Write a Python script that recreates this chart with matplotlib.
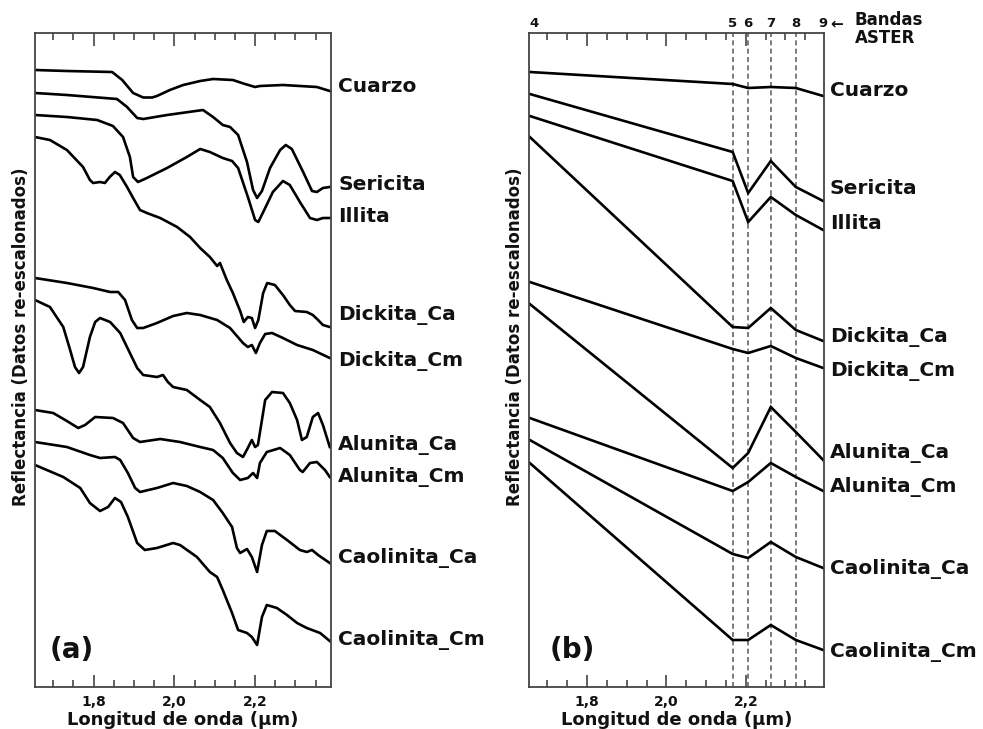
import matplotlib.pyplot as plt
import matplotlib.transforms as mtransforms
from matplotlib.ticker import MultipleLocator, FuncFormatter

plt.rcParams['font.family'] = ['DejaVu Sans']
plt.rcParams['font.weight'] = 'bold'
plt.rcParams['axes.labelweight'] = 'bold'

minerals = ['Cuarzo', 'Sericita', 'Illita', 'Dickita_Ca', 'Dickita_Cm',
            'Alunita_Ca', 'Alunita_Cm', 'Caolinita_Ca', 'Caolinita_Cm']

# ---- panel (a): laboratory spectra (wavelength um, re-scaled reflectance)
cuarzo_wl = [1.655, 1.734, 1.846, 1.871, 1.898, 1.923, 1.945, 1.957, 1.989, 2.022,
             2.064, 2.096, 2.145, 2.175, 2.200, 2.212, 2.269, 2.353, 2.385]
cuarzo_r = [6.30, 6.29, 6.28, 6.20, 6.07, 6.025, 6.025, 6.04, 6.10, 6.15,
            6.19, 6.21, 6.20, 6.16, 6.13, 6.14, 6.15, 6.13, 6.09]

sericita_wl = [1.655, 1.734, 1.858, 1.883, 1.908, 1.923, 1.982, 2.071, 2.096, 2.120,
               2.138, 2.158, 2.180, 2.195, 2.205, 2.217, 2.237, 2.262, 2.276, 2.291,
               2.319, 2.341, 2.353, 2.368, 2.385]
sericita_r = [6.07, 6.05, 6.01, 5.93, 5.82, 5.81, 5.85, 5.90, 5.83, 5.75,
              5.73, 5.65, 5.38, 5.10, 5.02, 5.09, 5.32, 5.50, 5.55, 5.51,
              5.28, 5.09, 5.08, 5.12, 5.13]

illita_wl = [1.655, 1.734, 1.809, 1.848, 1.873, 1.890, 1.898, 1.910, 1.932, 1.982,
             2.031, 2.064, 2.088, 2.120, 2.143, 2.158, 2.183, 2.200, 2.208, 2.225,
             2.244, 2.269, 2.286, 2.311, 2.336, 2.353, 2.368, 2.385]
illita_r = [5.85, 5.83, 5.80, 5.74, 5.63, 5.43, 5.23, 5.18, 5.22, 5.32,
            5.43, 5.51, 5.48, 5.42, 5.39, 5.32, 5.02, 4.80, 4.78, 4.92,
            5.08, 5.19, 5.15, 4.98, 4.82, 4.80, 4.82, 4.82]

dickita_ca_wl = [1.655, 1.692, 1.734, 1.774, 1.791, 1.799, 1.816, 1.828, 1.840, 1.853,
                 1.865, 1.883, 1.898, 1.915, 1.932, 1.965, 2.007, 2.039, 2.064, 2.088,
                 2.106, 2.113, 2.130, 2.145, 2.163, 2.172, 2.182, 2.192, 2.200, 2.208,
                 2.220, 2.230, 2.249, 2.269, 2.286, 2.299, 2.328, 2.343, 2.356, 2.368,
                 2.385]
dickita_ca_r = [5.63, 5.60, 5.50, 5.33, 5.20, 5.17, 5.18, 5.17, 5.23, 5.28,
                5.25, 5.13, 5.02, 4.90, 4.87, 4.82, 4.73, 4.63, 4.52, 4.43,
                4.34, 4.37, 4.20, 4.07, 3.89, 3.78, 3.83, 3.82, 3.72, 3.80,
                4.07, 4.17, 4.15, 4.05, 3.95, 3.89, 3.88, 3.85, 3.80, 3.75,
                3.73]

dickita_cm_wl = [1.655, 1.734, 1.799, 1.841, 1.861, 1.878, 1.895, 1.908, 1.923, 1.957,
                 1.997, 2.031, 2.064, 2.106, 2.138, 2.170, 2.182, 2.192, 2.202, 2.212,
                 2.225, 2.242, 2.269, 2.304, 2.343, 2.385]
dickita_cm_r = [4.22, 4.17, 4.12, 4.08, 4.08, 4.00, 3.80, 3.72, 3.72, 3.77,
                3.84, 3.87, 3.85, 3.80, 3.72, 3.57, 3.53, 3.55, 3.47, 3.57,
                3.66, 3.67, 3.62, 3.55, 3.50, 3.42]

alunita_ca_wl = [1.655, 1.692, 1.725, 1.742, 1.754, 1.764, 1.774, 1.791, 1.804, 1.816,
                 1.841, 1.866, 1.890, 1.908, 1.923, 1.957, 1.972, 1.984, 1.997, 2.031,
                 2.064, 2.088, 2.113, 2.138, 2.155, 2.170, 2.182, 2.192, 2.200, 2.207,
                 2.225, 2.242, 2.269, 2.286, 2.304, 2.316, 2.328, 2.343, 2.356, 2.368,
                 2.385]
alunita_ca_r = [4.00, 3.93, 3.73, 3.50, 3.33, 3.27, 3.33, 3.63, 3.78, 3.82,
                3.78, 3.67, 3.47, 3.32, 3.25, 3.23, 3.25, 3.18, 3.13, 3.10,
                3.00, 2.93, 2.77, 2.57, 2.47, 2.43, 2.52, 2.60, 2.53, 2.55,
                3.00, 3.08, 3.07, 2.97, 2.80, 2.60, 2.63, 2.83, 2.87, 2.75,
                2.53]

alunita_cm_wl = [1.655, 1.700, 1.734, 1.762, 1.779, 1.804, 1.848, 1.873, 1.898, 1.915,
                 1.965, 2.014, 2.064, 2.096, 2.120, 2.145, 2.163, 2.182, 2.195, 2.205,
                 2.212, 2.229, 2.262, 2.286, 2.311, 2.318, 2.336, 2.353, 2.373, 2.385]
alunita_cm_r = [2.90, 2.87, 2.79, 2.72, 2.75, 2.83, 2.82, 2.77, 2.62, 2.58,
                2.61, 2.58, 2.53, 2.50, 2.42, 2.27, 2.20, 2.22, 2.27, 2.22,
                2.37, 2.48, 2.52, 2.45, 2.30, 2.28, 2.37, 2.38, 2.30, 2.23]

caolinita_ca_wl = [1.655, 1.734, 1.791, 1.816, 1.853, 1.866, 1.885, 1.903, 1.915, 1.957,
                   1.997, 2.031, 2.064, 2.096, 2.120, 2.143, 2.155, 2.163, 2.180, 2.192,
                   2.205, 2.217, 2.229, 2.249, 2.279, 2.311, 2.328, 2.341, 2.356, 2.385]
caolinita_ca_r = [2.58, 2.53, 2.45, 2.42, 2.43, 2.40, 2.27, 2.12, 2.08, 2.12,
                  2.17, 2.14, 2.08, 2.00, 1.87, 1.73, 1.52, 1.47, 1.51, 1.43,
                  1.28, 1.55, 1.69, 1.69, 1.60, 1.50, 1.48, 1.50, 1.45, 1.37]

caolinita_cm_wl = [1.655, 1.725, 1.767, 1.791, 1.816, 1.836, 1.853, 1.868, 1.885, 1.908,
                   1.927, 1.957, 1.997, 2.014, 2.056, 2.088, 2.106, 2.120, 2.143, 2.158,
                   2.180, 2.192, 2.205, 2.217, 2.229, 2.254, 2.279, 2.304, 2.328, 2.361,
                   2.385]
caolinita_cm_r = [2.35, 2.23, 2.12, 1.97, 1.89, 1.93, 2.02, 1.98, 1.83, 1.57,
                  1.50, 1.52, 1.57, 1.55, 1.43, 1.28, 1.23, 1.10, 0.87, 0.70,
                  0.67, 0.63, 0.55, 0.83, 0.95, 0.92, 0.85, 0.77, 0.72, 0.67,
                  0.59]

# ---- panel (b): resampled to ASTER SWIR bands 4-9
band_names = ['4', '5', '6', '7', '8', '9']
band_wl = [1.656, 2.167, 2.206, 2.263, 2.326, 2.395]
cuarzo_b = [6.28, 6.16, 6.12, 6.13, 6.12, 6.04]
sericita_b = [6.06, 5.48, 5.07, 5.39, 5.13, 4.99]
illita_b = [5.84, 5.19, 4.78, 5.03, 4.85, 4.70]
dickita_ca_b = [5.63, 3.73, 3.72, 3.92, 3.70, 3.59]
dickita_cm_b = [4.18, 3.51, 3.47, 3.54, 3.42, 3.32]
alunita_ca_b = [3.96, 2.32, 2.47, 2.93, 2.68, 2.40]
alunita_cm_b = [2.82, 2.09, 2.18, 2.37, 2.23, 2.09]
caolinita_ca_b = [2.60, 1.46, 1.42, 1.58, 1.43, 1.32]
caolinita_cm_b = [2.37, 0.60, 0.60, 0.75, 0.60, 0.50]

label_y_a = [6.13, 5.16, 4.83, 3.85, 3.39, 2.55, 2.23, 1.42, 0.60]
label_y_b = [6.09, 5.11, 4.77, 3.63, 3.29, 2.47, 2.13, 1.31, 0.48]

spectra_a = [(cuarzo_wl, cuarzo_r), (sericita_wl, sericita_r), (illita_wl, illita_r),
             (dickita_ca_wl, dickita_ca_r), (dickita_cm_wl, dickita_cm_r),
             (alunita_ca_wl, alunita_ca_r), (alunita_cm_wl, alunita_cm_r),
             (caolinita_ca_wl, caolinita_ca_r), (caolinita_cm_wl, caolinita_cm_r)]
spectra_b = [cuarzo_b, sericita_b, illita_b, dickita_ca_b, dickita_cm_b,
             alunita_ca_b, alunita_cm_b, caolinita_ca_b, caolinita_cm_b]

fig = plt.figure(figsize=(9.83, 7.29), dpi=100)
ax_a = fig.add_axes([35 / 983, 42 / 729, 296 / 983, 654 / 729])
ax_b = fig.add_axes([529 / 983, 42 / 729, 295 / 983, 654 / 729])

spine_c = '#444444'
ink = '#111111'


def style(ax, xlim):
    ax.set_xlim(*xlim)
    ax.set_ylim(0.13, 6.67)
    for s in ax.spines.values():
        s.set_color(spine_c)
        s.set_linewidth(1.3)
    ax.xaxis.set_major_locator(MultipleLocator(0.2))
    ax.xaxis.set_minor_locator(MultipleLocator(0.05))
    ax.xaxis.set_major_formatter(FuncFormatter(lambda v, p: f'{v:.1f}'.replace('.', ',')))
    ax.tick_params(axis='x', which='both', direction='in', top=True, bottom=True,
                   color=spine_c, width=1.2, labelsize=10, labelcolor=ink, pad=6)
    ax.tick_params(axis='x', which='major', length=9)
    ax.tick_params(axis='x', which='minor', length=5)
    ax.set_yticks([])
    ax.set_xlabel('Longitud de onda (µm)', fontsize=13, color=ink, labelpad=1)
    ax.set_ylabel('Reflectancia (Datos re-escalonados)', fontsize=12, color=ink)
    ax.yaxis.set_label_coords(-0.018, 0.535)


# panel (a)
style(ax_a, (1.655, 2.388))
for (wl, r) in spectra_a:
    ax_a.plot(wl, r, color='black', lw=1.9, solid_joinstyle='round')
for name, y in zip(minerals, label_y_a):
    ax_a.text(1.024, y, name, transform=mtransforms.blended_transform_factory(ax_a.transAxes, ax_a.transData),
              fontsize=14.5, color=ink, va='center', ha='left')
ax_a.text(0.05, 0.045, '(a)', transform=ax_a.transAxes, fontsize=20, color=ink)

# panel (b)
style(ax_b, (1.654, 2.397))
for bw in band_wl[1:5]:
    ax_b.axvline(bw, color='#666666', lw=1.2, ls=(0, (3, 2)))
for r in spectra_b:
    ax_b.plot(band_wl, r, color='black', lw=1.9, solid_joinstyle='miter')
for name, y in zip(minerals, label_y_b):
    ax_b.text(1.02, y, name, transform=mtransforms.blended_transform_factory(ax_b.transAxes, ax_b.transData),
              fontsize=14.5, color=ink, va='center', ha='left')
ax_b.text(0.07, 0.045, '(b)', transform=ax_b.transAxes, fontsize=20, color=ink)

top_tr = mtransforms.blended_transform_factory(ax_b.transData, ax_b.transAxes)
for name, bw in zip(band_names, band_wl):
    ax_b.text(bw, 1.014, name, transform=top_tr, fontsize=9.5, color=ink,
              ha='left' if name == '4' else 'center', va='center')
ax_b.text(1.02, 1.014, '←', transform=ax_b.transAxes, fontsize=11, color=ink,
          ha='left', va='center')
ax_b.text(1.105, 1.006, 'Bandas\nASTER', transform=ax_b.transAxes, fontsize=12,
          color=ink, ha='left', va='center', linespacing=0.95)

fig.savefig('out.png', dpi=100)
